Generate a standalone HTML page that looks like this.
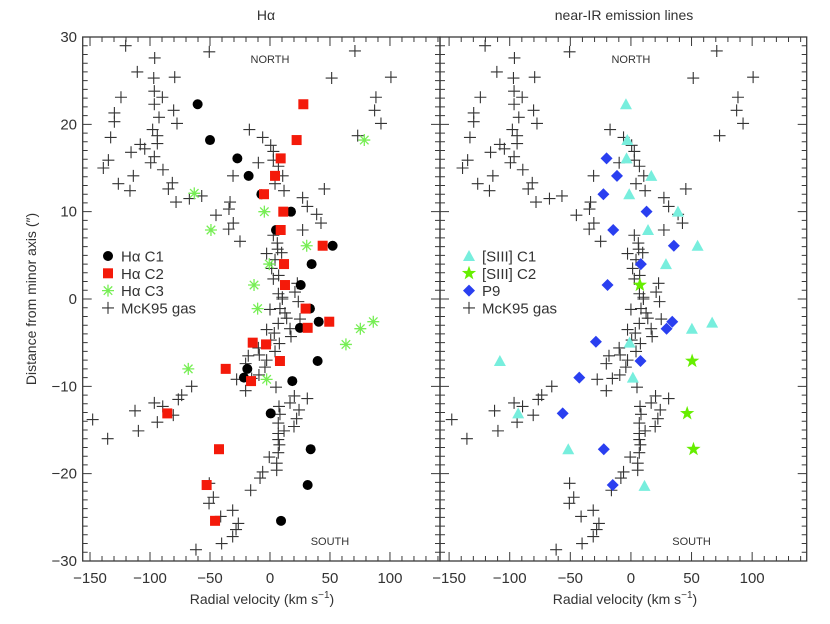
<!DOCTYPE html>
<html><head><meta charset="utf-8"><style>
html,body{margin:0;padding:0;background:#fff;}
svg{display:block;font-family:"Liberation Sans",sans-serif;}
</style></head><body>
<svg id="chart" width="830" height="624" viewBox="0 0 830 624" xmlns="http://www.w3.org/2000/svg">
<rect x="0" y="0" width="830" height="624" fill="#fff"/>
<text x="266" y="20" font-size="14" fill="#333" text-anchor="middle">Hα</text>
<text x="624" y="20" font-size="14" fill="#333" text-anchor="middle">near-IR emission lines</text>
<text transform="translate(36,299) rotate(-90)" font-size="14" fill="#333" text-anchor="middle">Distance from minor axis (″)</text>
<text x="262" y="604" font-size="14" fill="#333" text-anchor="middle">Radial velocity (km s<tspan dy="-6" font-size="10">−1</tspan><tspan dy="6">)</tspan></text>
<text x="625" y="604" font-size="14" fill="#333" text-anchor="middle">Radial velocity (km s<tspan dy="-6" font-size="10">−1</tspan><tspan dy="6">)</tspan></text>
<g id="layer"></g>
</svg>
<script>
// McK95 gas: velocities and offsets
const gasV = [-120.3,-50.6,-96.1,-110.6,-96.9,-79.4,70.8,51.4,100.8,-124.2,-96.4,-89.7,-96.4,88.3,-129.7,-129.7,-92.5,-80.3,-77.5,87.2,92.5,-132.8,-97.8,-93.9,-93.9,-17.2,-6.1,73.1,-138.9,-134.7,-115.8,-108.1,-104.4,-96.4,-99.4,-89.2,-113.9,-126.4,-116.7,-81.4,-84.7,-78.3,-67.2,-56.9,-45.0,-33.3,-34.2,-30.6,-34.4,-25.0,-30.8,-9.7,0.6,2.8,2.8,7.0,10.6,4.2,11.7,45.3,27.2,31.1,38.9,42.5,27.2,2.8,6.1,6.4,-2.8,9.7,4.2,1.4,2.8,7.2,20.8,22.8,7.0,10.3,
10.3,23.6,0,8.3,12.5,13.9,25.0,6.9,-2.8,3.6,16.7,17.5,0.6,7.8,-9.7,-8.9,4.2,-18.1,-2.8,-4.2,-20.3,-9.2,-27.8,-15.3,5.0,-20.3,-65.3,-73.6,-76.4,-96.4,-89.4,-112.5,-80.6,-147.8,-93.9,-109.7,-135.3,20.3,31.1,16.7,7.5,24.2,8.3,22.2,6.9,20.0,11.7,6.9,6.9,7.8,6.9,-0.6,5.6,5.6,-6.1,-8.3,-16.1,-50.6,-47.2,-50.8,-31.1,-41.1,-26.4,-28.3,-31.1,-40.3,-61.7];
const gasY = [29.0,28.3,27.6,26.0,25.3,25.4,28.4,25.3,25.4,23.1,23.8,23.1,22.3,23.1,21.3,20.3,20.8,21.6,20.1,21.6,20.1,18.5,19.4,18.7,17.8,19.4,18.5,18.7,15.0,15.9,16.8,17.7,17.2,16.3,15.6,14.8,14.1,13.2,12.4,13.3,12.6,11.1,11.5,11.8,9.6,11.1,10.3,8.7,8.0,6.6,14.1,15.6,17.6,16.9,15.9,15.2,14.1,13.2,12.4,12.6,11.6,10.6,9.7,8.7,7.9,7.3,6.4,5.7,5.2,5.3,4.5,3.5,2.3,2.7,0.8,1.8,0.6,0.2,
0.0,-0.3,-1.2,-1.1,-1.6,-2.2,-2.3,-2.8,-3.5,-3.9,-3.4,-4.3,-4.7,-5.1,-5.6,-6.4,-6.0,-6.5,-7.0,-7.8,-7.4,-8.7,-9.2,-9.1,-10.1,-10.5,-10.0,-11.0,-11.5,-11.9,-12.3,-12.8,-13.3,-13.8,-14.1,-15.1,-16.0,-11.1,-11.4,-11.9,-12.3,-12.7,-13.2,-13.7,-14.2,-14.6,-15.1,-15.4,-16.1,-16.7,-17.6,-18.1,-18.8,-19.6,-19.8,-20.5,-21.9,-21.1,-22.7,-23.4,-24.2,-24.9,-25.7,-26.4,-27.2,-28.0,-28.7];
const c1V = [-60.3,-50,-27.2,-17.8,-7.2,17.5,5.0,52.2,34.7,25.6,33.3,40.6,25,39.7,-18.9,-21.7,18.6,0.6,33.9,31.4,9.2];
const c1Y = [22.3,18.2,16.1,14.1,12.0,10.0,7.9,6.1,4.0,1.6,-1.1,-2.6,-3.3,-7.1,-8.0,-9.0,-9.4,-13.1,-17.2,-21.3,-25.4];
const c2V = [27.8,22.2,8.9,4.2,-5,11.1,8.9,43.9,11.7,12.5,29.7,49.4,31.4,-14.4,-3.3,8.3,-36.9,-15.8,-85.6,-42.5,-52.8,-45.8];
const c2Y = [22.3,18.2,16.1,14.1,12.0,10.0,7.9,6.1,4.0,1.6,-1.1,-2.6,-3.3,-5.0,-5.2,-7.1,-8.0,-9.4,-13.1,-17.2,-21.3,-25.4];
const c3V = [-63.1,78.6,-4.7,-49.2,30.6,-0.6,-13.3,-10.3,86.1,75.3,63.3,-68.1,-2.8];
const c3Y = [12.1,18.2,10.0,7.9,6.1,4.0,1.6,-1.1,-2.6,-3.4,-5.2,-8.0,-9.2];
const s1V = [-4.1,-3.0,-3.6,16.8,-1.4,38.8,14.1,55.0,28.9,67.0,50.3,-1.1,-108.1,1.6,-93.0,-51.7,11.2];
const s1Y = [22.3,18.2,16.1,14.1,12.0,10.0,7.9,6.1,4.0,-2.7,-3.4,-5.0,-7.1,-9.0,-13.1,-17.2,-21.4];
const s2V = [7.4,50.5,46.4,51.6];
const s2Y = [1.6,-7.1,-13.1,-17.2];
const p9V = [-20.1,-11.5,-22.7,12.9,-14.6,35.4,8.2,-19.3,34.1,29.4,-28.9,7.9,-42.6,-56.3,-22.4,-15.0];
const p9Y = [16.1,14.1,12.0,10.0,7.9,6.1,4.0,1.6,-2.6,-3.4,-4.9,-7.1,-9.0,-13.1,-17.2,-21.3];
const xTicks = [-150,-100,-50,0,50,100];
const yTicks = [-30,-20,-10,0,10,20,30];

const NS='http://www.w3.org/2000/svg';
const layer=document.getElementById('layer');
function mk(tag,attrs,parent){const e=document.createElementNS(NS,tag);for(const k in attrs)e.setAttribute(k,attrs[k]);(parent||layer).appendChild(e);return e;}
const Y0=37,Y1=561;
function sy(v){return Y0+(30-v)/60*(Y1-Y0);}
const panels=[
 {name:'left',x0:82.7,x1:440,xmin:-156.1,xmax:141.7},
 {name:'right',x0:440,x1:806.7,xmin:-157.5,xmax:145}
];
panels.forEach(p=>{p.sx=v=>p.x0+(v-p.xmin)/(p.xmax-p.xmin)*(p.x1-p.x0);});
const dark='#3a3a3a';

function cross(g,x,y){const e=mk('path',{d:`M${x-6} ${y}H${x+6}M${x} ${y-6}V${y+6}`,stroke:'#333','stroke-width':1.1,fill:'none'},g);return e;}
function circ(g,x,y){return mk('circle',{cx:x,cy:y,r:5,fill:'#000'},g);}
function sq(g,x,y){return mk('rect',{x:x-5,y:y-5,width:10,height:10,fill:'#f41a0a'},g);}
function ast(g,x,y){let d='';for(let i=0;i<4;i++){const a=i*Math.PI/4,c=Math.cos(a)*6,s=Math.sin(a)*6;d+=`M${x-c} ${y-s}L${x+c} ${y+s}`;}return mk('path',{d:d,stroke:'#77ee55','stroke-width':1.3,fill:'none'},g);}
function tri(g,x,y){return mk('polygon',{points:`${x},${y-6} ${x+6},${y+5} ${x-6},${y+5}`,fill:'#77eedd'},g);}
function dia(g,x,y){return mk('polygon',{points:`${x},${y-6} ${x+6},${y} ${x},${y+6} ${x-6},${y}`,fill:'#2a3ff0'},g);}
function star(g,x,y){let pts=[];for(let i=0;i<10;i++){const r=i%2?3:7.5,a=-Math.PI/2+i*Math.PI/5;pts.push((x+r*Math.cos(a)).toFixed(1)+','+(y+r*Math.sin(a)).toFixed(1));}return mk('polygon',{points:pts.join(' '),fill:'#66ee00'},g);}

function series(p,V,Y,fn,nm){
 const g=mk('g',{});
 
 
 V.forEach((v,i)=>{const e=fn(g,p.sx(v),sy(Y[i]));
  
  });
}

panels.forEach((p,pi)=>{
 const ax=mk('g',{});
 
 
 mk('rect',{x:p.x0,y:Y0,width:p.x1-p.x0,height:Y1-Y0,fill:'none',stroke:dark,'stroke-width':1.3},ax);
 let d='';
 for(let v=-170;v<=140;v+=10){if(v<p.xmin||v>p.xmax)continue;const x=p.sx(v);const L=(v%50===0)?9:5;d+=`M${x} ${Y1}V${Y1-L}M${x} ${Y0}V${Y0+L}`;}
 for(let v=-30;v<=30;v++){const y=sy(v);const L=(v%10===0)?9:5;d+=`M${p.x0} ${y}H${p.x0+L}M${p.x1} ${y}H${p.x1-L}`;}
 mk('path',{d:d,stroke:dark,'stroke-width':1,fill:'none'},ax);
 xTicks.forEach(v=>{const t=mk('text',{x:p.sx(v),y:583,'font-size':15,fill:'#333','text-anchor':'middle'},ax);t.textContent=(v<0?'−':'')+Math.abs(v);
  
  });
 if(pi===0){yTicks.forEach(v=>{const t=mk('text',{x:77,y:sy(v)+5,'font-size':15,fill:'#333','text-anchor':'end'},ax);t.textContent=(v<0?'−':'')+Math.abs(v);
  
  });}
 const n=mk('text',{x:p.sx(0),y:63,'font-size':11,fill:'#333','text-anchor':'middle'},ax);n.textContent='NORTH';
 
 
 const s=mk('text',{x:p.sx(50),y:545,'font-size':11,fill:'#333','text-anchor':'middle'},ax);s.textContent='SOUTH';
 
 
 series(p,gasV,gasY,cross,'mck95-gas');
});
const L=panels[0],R=panels[1];
series(L,c1V,c1Y,circ,'halpha-c1');
series(L,c2V,c2Y,sq,'halpha-c2');
series(L,c3V,c3Y,ast,'halpha-c3');
series(R,s1V,s1Y,tri,'siii-c1');
series(R,s2V,s2Y,star,'siii-c2');
series(R,p9V,p9Y,dia,'p9');

function legend(x,items,nm){
 const g=mk('g',{});
 
 
 items.forEach((it,i)=>{const y=256+i*17.3;
  const e=mk('g',{},g);
  
  
  it[0](e,x,y);
  const t=mk('text',{x:x+13,y:y+5.5,'font-size':15,fill:'#333'},e);t.textContent=it[1];});
}
legend(108,[[circ,'Hα  C1'],[sq,'Hα  C2'],[ast,'Hα  C3'],[cross,'McK95 gas']],'left-legend');
legend(469,[[tri,'[SIII]  C1'],[star,'[SIII]  C2'],[dia,'P9'],[cross,'McK95 gas']],'right-legend');
</script>
</body></html>
